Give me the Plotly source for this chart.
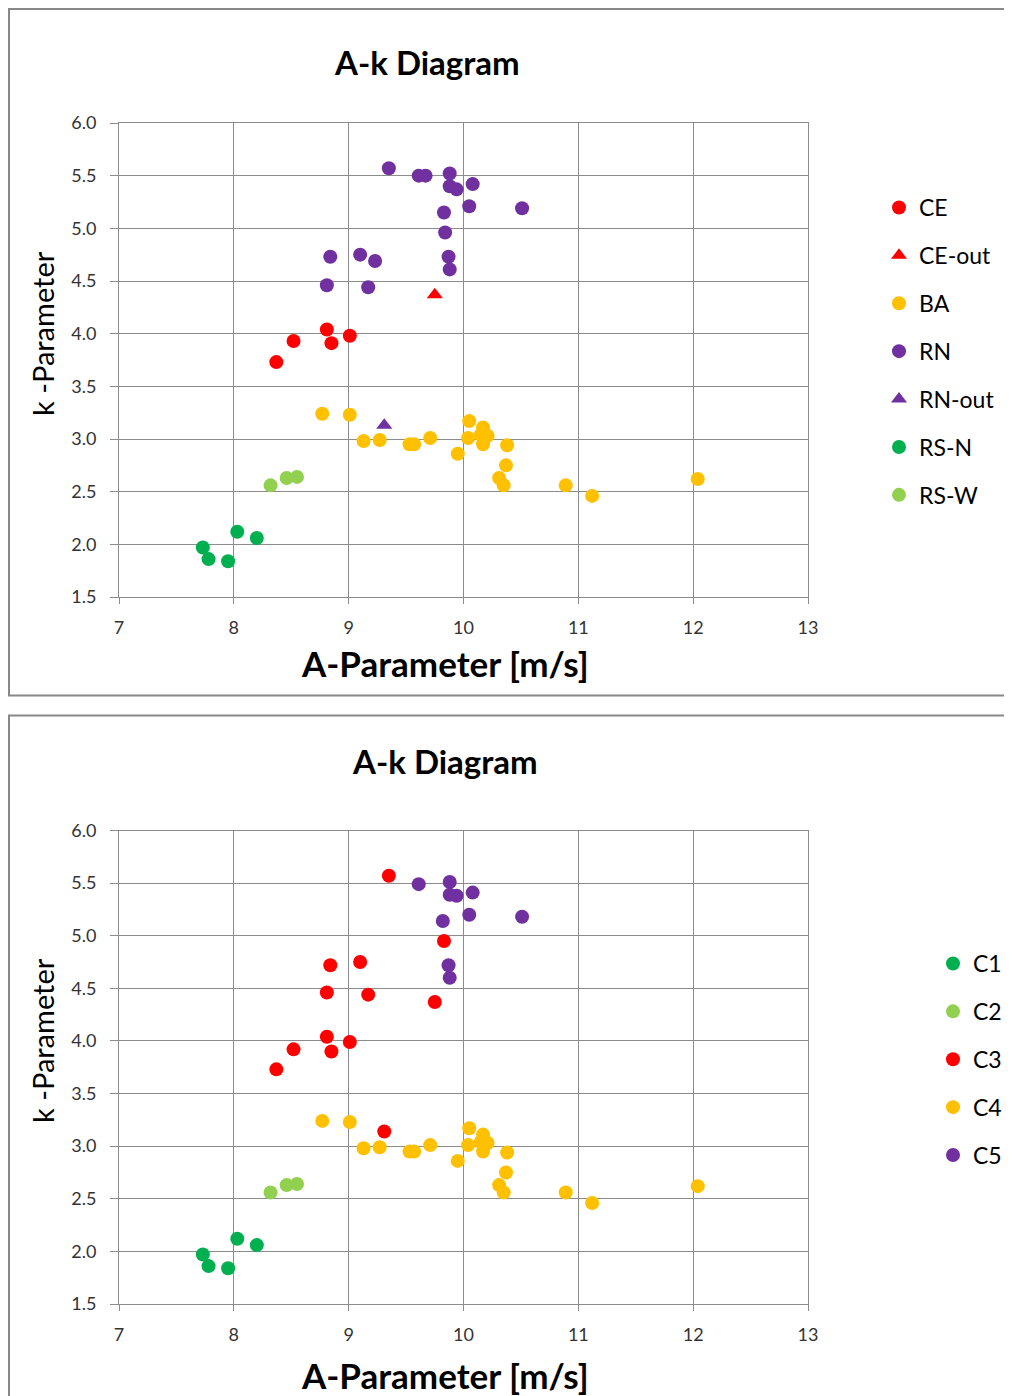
import plotly.graph_objects as go

# ---------------- data (top chart: by site type) ----------------
ce_A = [8.81, 9.01, 8.52, 8.85, 8.37]
ce_k = [4.04, 3.98, 3.93, 3.91, 3.73]
ceout_A = [9.75]
ceout_k = [4.37]
ba_A = [8.77, 9.01, 9.13, 9.27, 9.53, 9.57, 9.71, 9.95, 10.05, 10.04, 10.17, 10.21,
        10.15, 10.17, 10.38, 10.37, 10.31, 10.35, 10.89, 11.12, 12.04]
ba_k = [3.24, 3.23, 2.98, 2.99, 2.95, 2.95, 3.01, 2.86, 3.17, 3.01, 3.11, 3.03,
        3.04, 2.95, 2.94, 2.75, 2.63, 2.56, 2.56, 2.46, 2.62]
rn_A = [9.35, 9.61, 9.67, 9.88, 9.88, 9.94, 10.08, 10.05, 10.51, 9.83, 9.84,
        8.84, 9.10, 9.23, 9.87, 9.88, 8.81, 9.17]
rn_k = [5.57, 5.50, 5.50, 5.52, 5.40, 5.37, 5.42, 5.21, 5.19, 5.15, 4.96,
        4.73, 4.75, 4.69, 4.73, 4.61, 4.46, 4.44]
rnout_A = [9.31]
rnout_k = [3.13]
rsn_A = [8.03, 8.20, 7.73, 7.78, 7.95]
rsn_k = [2.12, 2.06, 1.97, 1.86, 1.84]
rsw_A = [8.32, 8.46, 8.55]
rsw_k = [2.56, 2.63, 2.64]

# ---------------- data (bottom chart: by cluster) ----------------
c1_A = [8.03, 8.20, 7.73, 7.78, 7.95]
c1_k = [2.12, 2.06, 1.97, 1.86, 1.84]
c2_A = [8.32, 8.46, 8.55]
c2_k = [2.56, 2.63, 2.64]
c3_A = [8.81, 9.01, 8.52, 8.85, 8.37, 9.75, 9.35, 8.84, 9.10, 8.81, 9.17, 9.83, 9.31]
c3_k = [4.04, 3.99, 3.92, 3.90, 3.73, 4.37, 5.57, 4.72, 4.75, 4.46, 4.44, 4.95, 3.14]
c4_A = ba_A[:]
c4_k = ba_k[:]
c5_A = [9.61, 9.88, 9.88, 9.94, 10.08, 10.05, 10.51, 9.82, 9.87, 9.88]
c5_k = [5.49, 5.51, 5.39, 5.38, 5.41, 5.20, 5.18, 5.14, 4.72, 4.60]

x_ticks = [7, 8, 9, 10, 11, 12, 13]
y_ticks = [1.5, 2.0, 2.5, 3.0, 3.5, 4.0, 4.5, 5.0, 5.5, 6.0]

RED = "#FF0000"
ORANGE = "#FFC000"
PURPLE = "#7030A0"
GREEN = "#00B050"
LGREEN = "#92D050"

# page body has an 8px margin: the figure starts 8px in from the window's corner
OFF = 8
W, H = 1012 - 2 * OFF, 1396 - OFF
FONT = "Lato"
GRID = "#8c8c8c"

def px_x(p):
    return (p - OFF) / W

def px_y(p):
    return 1 - (p - OFF) / H

fig = go.Figure()

def add(A, k, name, color, symbol, xa, ya, legend, group):
    fig.add_trace(go.Scatter(
        x=A, y=k, mode="markers", name=name,
        marker=dict(color=color, size=14, symbol=symbol, line=dict(width=0)),
        xaxis=xa, yaxis=ya, legend=legend, legendgroup=group,
    ))

add(ce_A, ce_k, "CE", RED, "circle", "x", "y", "legend", "a1")
add(ceout_A, ceout_k, "CE-out", RED, "triangle-up", "x", "y", "legend", "a2")
add(ba_A, ba_k, "BA", ORANGE, "circle", "x", "y", "legend", "a3")
add(rn_A, rn_k, "RN", PURPLE, "circle", "x", "y", "legend", "a4")
add(rnout_A, rnout_k, "RN-out", PURPLE, "triangle-up", "x", "y", "legend", "a5")
add(rsn_A, rsn_k, "RS-N", GREEN, "circle", "x", "y", "legend", "a6")
add(rsw_A, rsw_k, "RS-W", LGREEN, "circle", "x", "y", "legend", "a7")

add(c1_A, c1_k, "C1", GREEN, "circle", "x2", "y2", "legend2", "b1")
add(c2_A, c2_k, "C2", LGREEN, "circle", "x2", "y2", "legend2", "b2")
add(c3_A, c3_k, "C3", RED, "circle", "x2", "y2", "legend2", "b3")
add(c4_A, c4_k, "C4", ORANGE, "circle", "x2", "y2", "legend2", "b4")
add(c5_A, c5_k, "C5", PURPLE, "circle", "x2", "y2", "legend2", "b5")

xdom = [px_x(119), px_x(808)]
ax_common = dict(showgrid=True, gridcolor=GRID, gridwidth=1, zeroline=False,
                 showline=True, linecolor=GRID, linewidth=1, mirror=True,
                 ticks="outside", tickcolor=GRID, automargin=False,
                 tickfont=dict(family=FONT, size=18, color="#333333"))

xax = dict(range=[7, 13], tickvals=x_ticks, ticklen=6, domain=xdom,
           ticklabelstandoff=8, **ax_common)
yax = dict(range=[1.5, 6.0], tickvals=y_ticks, tickformat=".1f", ticklen=8,
           ticklabelstandoff=10, **ax_common)

fig.update_layout(
    width=W, height=H,
    margin=dict(l=0, r=0, t=0, b=0, pad=0, autoexpand=False),
    paper_bgcolor="white", plot_bgcolor="white",
    xaxis=dict(anchor="y", **xax),
    yaxis=dict(anchor="x", domain=[px_y(597), px_y(123)], **yax),
    xaxis2=dict(anchor="y2", **xax),
    yaxis2=dict(anchor="x2", domain=[px_y(1304), px_y(830.5)], **yax),
    legend=dict(x=px_x(879), y=px_y(186), xanchor="left", yanchor="top",
                font=dict(family=FONT, size=23, color="black"),
                tracegroupgap=15, itemsizing="trace", bgcolor="rgba(0,0,0,0)"),
    legend2=dict(x=px_x(933), y=px_y(942), xanchor="left", yanchor="top",
                 font=dict(family=FONT, size=23, color="black"),
                 tracegroupgap=15, itemsizing="trace", bgcolor="rgba(0,0,0,0)"),
    showlegend=True,
)

# frames around the two chart areas
fig.add_shape(type="rect", xref="paper", yref="paper",
              x0=px_x(9), x1=px_x(1040), y0=px_y(695.5), y1=px_y(9),
              line=dict(color="#888888", width=2), layer="below")
fig.add_shape(type="rect", xref="paper", yref="paper",
              x0=px_x(9), x1=px_x(1040), y0=px_y(1430), y1=px_y(715.5),
              line=dict(color="#888888", width=2), layer="below")

def text(s, xp, yp, size, angle=0):
    fig.add_annotation(text=s, xref="paper", yref="paper", x=px_x(xp), y=px_y(yp),
                       xanchor="center", yanchor="middle", showarrow=False,
                       textangle=angle, font=dict(family=FONT, size=size, color="black"))

text("<b>A-k Diagram</b>", 427, 62, 33)
text("<b>A-k Diagram</b>", 445, 761, 33)
text("<b>A-Parameter [m/s]</b>", 445, 663, 35)
text("<b>A-Parameter [m/s]</b>", 445, 1375, 35)
text("k -Parameter", 42, 334, 29, -90)
text("k -Parameter", 42, 1041, 29, -90)

fig.write_html("out.html")
